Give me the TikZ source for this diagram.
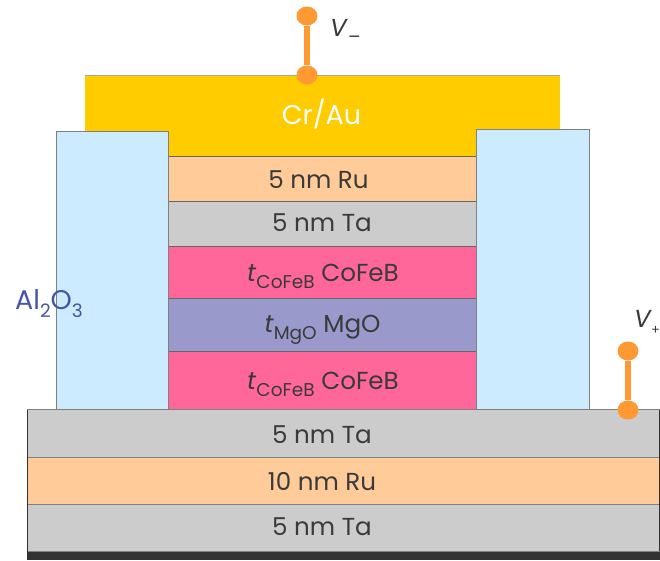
\documentclass[tikz,border=0pt]{standalone}
\usepackage{fontspec}
\setmainfont{Poppins}
\definecolor{gold}{HTML}{FFCC00}
\definecolor{sky}{HTML}{CCEBFF}
\definecolor{peach}{HTML}{FFCC99}
\definecolor{greyl}{HTML}{CCCCCC}
\definecolor{pinkl}{HTML}{FF6699}
\definecolor{violetl}{HTML}{9999CC}
\definecolor{dark}{HTML}{333333}
\definecolor{orangeT}{HTML}{FF9933}
\definecolor{txt}{HTML}{3A3A3A}
\definecolor{blueT}{HTML}{4455AA}
\newcommand{\sbs}[1]{\raisebox{-0.32em}{\fontsize{18.5}{18.5}\selectfont #1}}
\newcommand{\tlayer}[2]{\textit{t}\sbs{#1} #2}
\usetikzlibrary{shapes.geometric}
\tikzset{
  lab/.style={text=txt, font=\fontsize{24.6}{25}\selectfont, inner sep=0pt, anchor=base},
  dot/.style={ellipse, fill=orangeT, inner sep=0pt, minimum width=21pt, minimum height=19pt},
  wire/.style={draw=orangeT, line width=6pt},
  edgeline/.style={draw=gray!80!black, line width=1pt},
}
\begin{document}
\begin{tikzpicture}[x=1pt,y=-1pt]
\useasboundingbox (0,0) rectangle (660,560);
\clip (0,0) rectangle (660,560);
\fill[white] (0,0) rectangle (660,560);
% top contact
\fill[gold] (85,75) rectangle (560,156);
\draw[gray!70,line width=.8pt] (85,75) -- (560,75);
% stack
\path[fill=peach,edgeline] (168,156) rectangle (476,201);
\path[fill=greyl,edgeline] (168,201) rectangle (476,246);
\path[fill=pinkl,edgeline] (168,246) rectangle (476,298);
\path[fill=violetl,edgeline] (168,298) rectangle (476,351);
\path[fill=pinkl,edgeline] (168,351) rectangle (476,409);
% insulators
\path[fill=sky,draw=gray,line width=1pt] (56,131) rectangle (168,409);
\path[fill=sky,draw=gray,line width=1pt] (476,129) rectangle (589,409);
% base
\fill[dark] (27,551) rectangle (660,560);
\path[fill=greyl,draw=gray,line width=1pt] (27.5,409.5) rectangle (659,457);
\path[fill=peach,draw=gray,line width=1pt] (27.5,457) rectangle (659,504);
\path[fill=greyl,draw=gray,line width=1pt] (27.5,504) rectangle (659,551);
\draw[dark,line width=1pt] (27.5,409.5) -- (27.5,560) (659,409.5) -- (659,551);
% labels
\node[lab,text=white,font=\fontsize{27}{27}\selectfont] (cr) at (321.5,124) {Cr/Au};
\node[lab] (l1) at (318.5,188) {5 nm Ru};
\node[lab] (l2) at (322,231) {5 nm Ta};
\node[lab] (l3) at (323,281) {\tlayer{CoFeB}{CoFeB}};
\node[lab] (l4) at (322.5,332) {\tlayer{MgO}{MgO}};
\node[lab] (l5) at (323,389) {\tlayer{CoFeB}{CoFeB}};
\node[lab] (l6) at (322,443) {5 nm Ta};
\node[lab] (l7) at (322,490) {10 nm Ru};
\node[lab] (l8) at (322,535) {5 nm Ta};
\node[lab,text=blueT,font=\fontsize{27}{27}\selectfont] (al) at (49,309) {Al\sbs{2}O\sbs{3}};
% terminals
\node[dot] (a1) at (307,16) {};
\node[dot] (a2) at (307,75) {};
\draw[wire] (a1) -- (a2);
\node[dot] (b1) at (628,351) {};
\node[dot] (b2) at (628,410) {};
\draw[wire] (b1) -- (b2);
\node[lab,anchor=base west] (vm) at (330,36) {\textit{V}\sbs{–}};
\node[lab,anchor=base west] (vp) at (634,327) {\textit{V}\kern-1pt\sbs{\fontsize{13}{13}\selectfont +}};
\end{tikzpicture}
\end{document}
